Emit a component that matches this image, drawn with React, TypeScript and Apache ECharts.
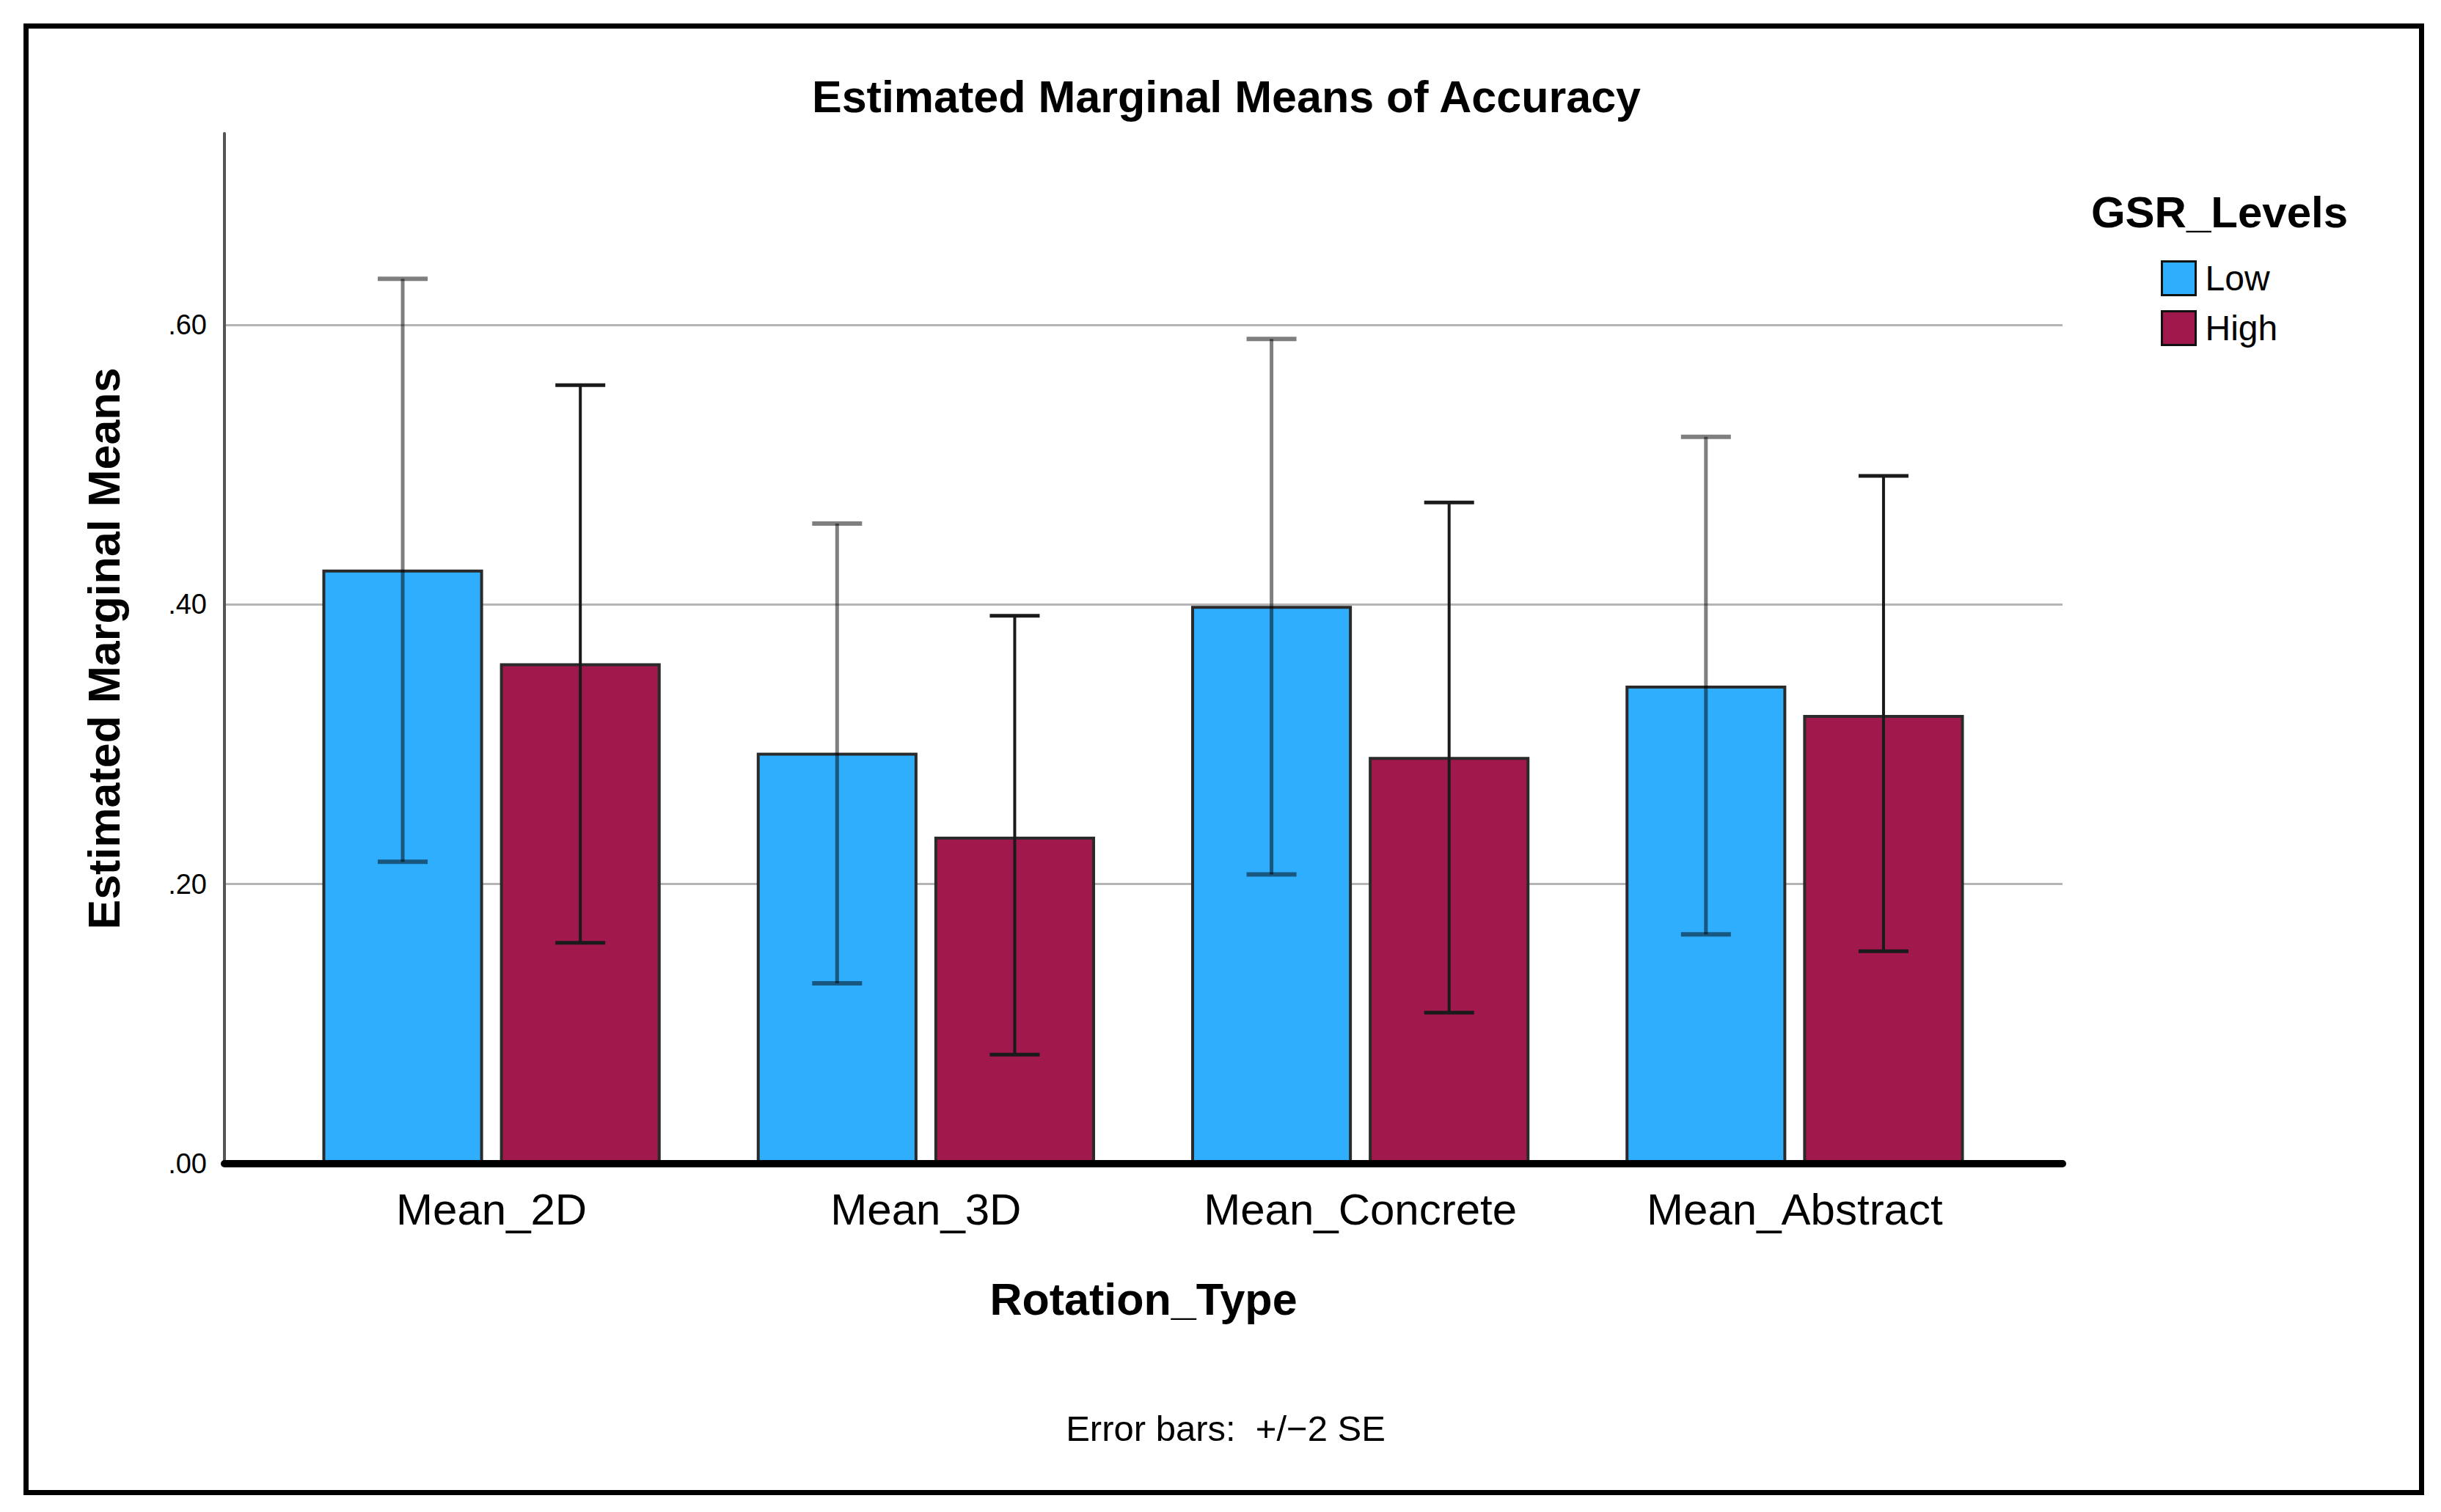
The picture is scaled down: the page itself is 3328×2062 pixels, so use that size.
import React, { useEffect, useRef } from "react";
import * as echarts from "echarts";

const categories = ["Mean_2D", "Mean_3D", "Mean_Concrete", "Mean_Abstract"];
const seriesNames = ["Low", "High"];
const lowMeans = [0.425, 0.294, 0.399, 0.342];
const highMeans = [0.358, 0.234, 0.291, 0.321];
const lowLower = [0.216, 0.129, 0.207, 0.164];
const lowUpper = [0.633, 0.458, 0.59, 0.52];
const highLower = [0.158, 0.078, 0.108, 0.152];
const highUpper = [0.557, 0.392, 0.473, 0.492];
const yTicks = [0, 0.2, 0.4, 0.6];
const yMax = 0.737;

const FONT = "'Liberation Sans', Arial, sans-serif";
const LOW_COLOR = "#30AEFE";
const HIGH_COLOR = "#A0184C";

export default function App() {
  const ref = useRef<HTMLDivElement>(null);

  useEffect(() => {
    if (!ref.current) return;
    const chart = echarts.init(ref.current, null, { renderer: "svg", width: 3328, height: 2062 });

    const barWidthFrac = 0.37;
    const gapFrac = 0.105;

    const errRender = (sign: number, color: string, lw: number) => (params: any, api: any) => {
      const cat = api.value(0);
      const lo = api.value(1);
      const hi = api.value(2);
      const band = api.size([1, 0])[0];
      const dx = (sign * band * barWidthFrac * (1 + gapFrac)) / 2;
      const pLo = api.coord([cat, lo]);
      const pHi = api.coord([cat, hi]);
      const x = pLo[0] + dx;
      const cap = 34;
      return {
        type: "group",
        children: [
          { type: "line", shape: { x1: x, y1: pHi[1], x2: x, y2: pLo[1] }, style: { stroke: color, lineWidth: lw } },
          { type: "line", shape: { x1: x - cap, y1: pHi[1], x2: x + cap, y2: pHi[1] }, style: { stroke: color, lineWidth: lw + 1 } },
          { type: "line", shape: { x1: x - cap, y1: pLo[1], x2: x + cap, y2: pLo[1] }, style: { stroke: color, lineWidth: lw + 1 } },
        ],
      };
    };

    const option: any = {
      animation: false,
      backgroundColor: "#ffffff",
      grid: [
        { left: 306, top: 182, width: 2506, height: 1405 },
        { left: 374, top: 182, width: 2369, height: 1405 },
      ],
      xAxis: [
        {
          gridIndex: 0,
          type: "value",
          min: 0,
          max: 1,
          z: 10,
          axisLine: { show: true, lineStyle: { color: "#000", width: 10 } },
          axisTick: { show: false },
          axisLabel: { show: false },
          splitLine: { show: false },
          name: "Rotation_Type",
          nameLocation: "middle",
          nameGap: 154,
          nameTextStyle: { fontFamily: FONT, fontSize: 61, fontWeight: "bold", color: "#000" },
        },
        {
          gridIndex: 1,
          type: "category",
          data: categories,
          axisLine: { show: false },
          axisTick: { show: false },
          axisLabel: { fontFamily: FONT, fontSize: 60, color: "#000", margin: 32 },
        },
      ],
      yAxis: [
        {
          gridIndex: 0,
          type: "value",
          min: 0,
          max: yMax,
          interval: 0.2,
          axisLine: { show: true, lineStyle: { color: "#555", width: 4 } },
          axisTick: { show: false },
          axisLabel: {
            fontFamily: FONT,
            fontSize: 38,
            color: "#000",
            margin: 24,
            showMaxLabel: false,
            formatter: (v: number) => (yTicks.some((t) => Math.abs(t - v) < 1e-6) ? v.toFixed(2).replace(/^0/, "") : ""),
          },
          splitLine: { show: true, showMinLine: false, showMaxLine: false, lineStyle: { color: "#b5b5b5", width: 3 } },
          name: "Estimated Marginal Means",
          nameLocation: "middle",
          nameRotate: 90,
          nameGap: 134,
          nameTextStyle: { fontFamily: FONT, fontSize: 61, fontWeight: "bold", color: "#000" },
        },
        { gridIndex: 1, type: "value", min: 0, max: yMax, show: false, splitLine: { show: false } },
      ],
      legend: {
        orient: "vertical",
        left: 2946,
        top: 355,
        padding: 0,
        itemWidth: 46,
        itemHeight: 46,
        itemGap: 19,
        icon: "rect",
        data: seriesNames,
        itemStyle: { borderColor: "#111", borderWidth: 3 },
        textStyle: { fontFamily: FONT, fontSize: 48, color: "#000", padding: [4, 0, 0, 8] },
      },
      graphic: [
        {
          type: "rect",
          shape: { x: 35.5, y: 35.5, width: 3266, height: 2000 },
          style: { fill: "none", stroke: "#000", lineWidth: 7 },
          z: 100,
        },
        {
          type: "text",
          x: 1672,
          y: 132,
          style: { text: "Estimated Marginal Means of Accuracy", fontFamily: FONT, fontSize: 61, fontWeight: "bold", fill: "#000", align: "center", verticalAlign: "middle", textAlign: "center", textVerticalAlign: "middle" },
        },
        {
          type: "text",
          x: 3026,
          y: 289,
          style: { text: "GSR_Levels", fontFamily: FONT, fontSize: 60, fontWeight: "bold", fill: "#000", align: "center", verticalAlign: "middle", textAlign: "center", textVerticalAlign: "middle" },
        },
        {
          type: "text",
          x: 1671,
          y: 1948,
          style: { text: "Error bars:  +/\u22122 SE", fontFamily: FONT, fontSize: 49, fill: "#000", align: "center", verticalAlign: "middle", textAlign: "center", textVerticalAlign: "middle" },
        },
      ],
      series: [
        {
          name: "Low",
          type: "bar",
          xAxisIndex: 1,
          yAxisIndex: 1,
          data: lowMeans,
          barWidth: "37%",
          barGap: "10.5%",
          itemStyle: { color: LOW_COLOR, borderColor: "#2a2a2a", borderWidth: 4 },
          z: 2,
        },
        {
          name: "High",
          type: "bar",
          xAxisIndex: 1,
          yAxisIndex: 1,
          data: highMeans,
          barWidth: "37%",
          barGap: "10.5%",
          itemStyle: { color: HIGH_COLOR, borderColor: "#2a2a2a", borderWidth: 4 },
          z: 2,
        },
        {
          name: "Low SE",
          type: "custom",
          xAxisIndex: 1,
          yAxisIndex: 1,
          z: 5,
          encode: { x: 0, y: [1, 2] },
          data: categories.map((_, i) => [i, lowLower[i], lowUpper[i]]),
          renderItem: errRender(-1, "rgba(0,0,0,0.5)", 5),
        },
        {
          name: "High SE",
          type: "custom",
          xAxisIndex: 1,
          yAxisIndex: 1,
          z: 5,
          encode: { x: 0, y: [1, 2] },
          data: categories.map((_, i) => [i, highLower[i], highUpper[i]]),
          renderItem: errRender(1, "#1a1a1a", 4),
        },
      ],
    };

    chart.setOption(option);
    return () => chart.dispose();
  }, []);

  return (
    <div
      ref={ref}
      style={{ position: "fixed", left: 0, top: 0, width: 3328, height: 2062, background: "#fff" }}
    />
  );
}
